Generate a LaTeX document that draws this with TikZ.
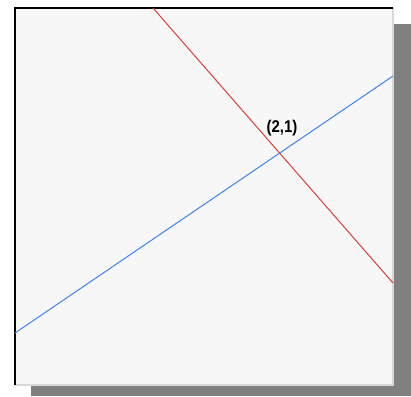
\documentclass[tikz,border=0pt]{standalone}
\usepackage{fontspec}
\setmainfont{Liberation Sans}
\definecolor{panelbg}{HTML}{F7F7F7}
\definecolor{shadowgray}{HTML}{808080}
\definecolor{edgegray}{HTML}{D8D8D8}
\definecolor{linered}{HTML}{E03C3C}
\definecolor{lineblue}{HTML}{3C82F0}
\begin{document}
\begin{tikzpicture}[x=1pt, y=-1pt,
  graphline/.style={line width=1pt}]
  \useasboundingbox (0,0) rectangle (411,396);
  % Drop shadow and panel
  \fill[shadowgray] (31,24) rectangle (411,396);
  \fill[panelbg] (15,8) rectangle (393,385);
  \draw[edgegray, line width=1.5pt] (15,385) -- (393,385) -- (393,8);
  \draw[black, line width=1.5pt] (15,385) -- (15,8) -- (393,8);

  % The two lines
  \coordinate (redtop) at (153,8);
  \coordinate (redend) at (393,283);
  \coordinate (blueleft) at (15,333);
  \coordinate (blueright) at (393,76);
  \draw[graphline, linered] (redtop) -- (redend);
  \draw[graphline, lineblue] (blueleft) -- (blueright);

  % Intersection label
  \node[font=\fontsize{17}{19}\selectfont\bfseries, xscale=0.88, inner sep=1pt] (meet) at (282,128.5) {(2,1)};
\end{tikzpicture}
\end{document}
